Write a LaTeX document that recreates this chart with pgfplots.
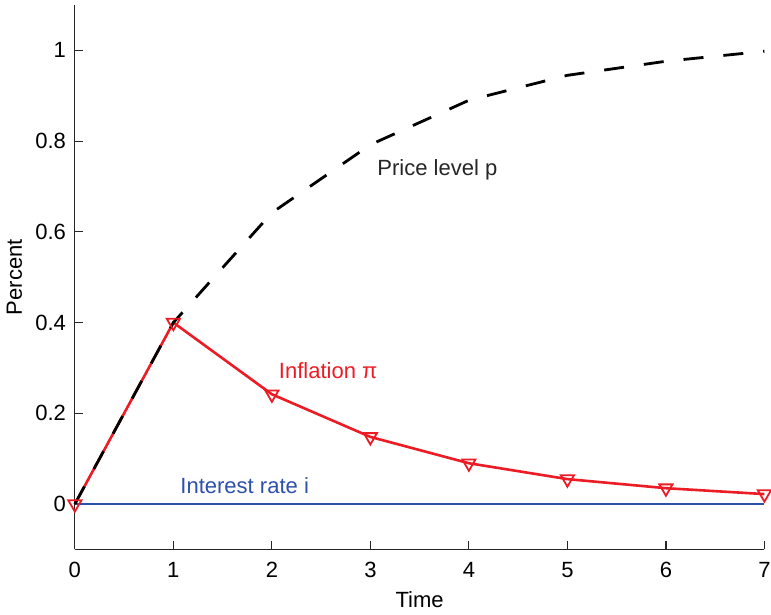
\documentclass[border=0pt]{standalone}
\usepackage{fontspec}
\setmainfont{Liberation Sans}
\usepackage{pgfplots}
\pgfplotsset{compat=1.18}
\usepackage{pgfplotstable}
\definecolor{infred}{RGB}{237,28,36}
\definecolor{intblue}{RGB}{45,80,170}
\pgfplotstableread{
t infl
0 0
1 0.400
2 0.242
3 0.148
4 0.090
5 0.055
6 0.035
7 0.022
}\infltab
\pgfplotstableread{
t price
0 0
1 0.400
2 0.642
3 0.792
4 0.890
5 0.945
6 0.976
7 0.998
}\pricetab
\pgfplotstableread{
t rate
0 0
7 0
}\ratetab
\begin{document}
\begin{tikzpicture}
\begin{axis}[
 scale only axis, width=344.5pt, height=272pt,
 xmin=0, xmax=7, ymin=-0.1, ymax=1.1,
 axis lines*=left,
 tick align=inside,
 xtick={0,1,2,3,4,5,6,7}, ytick={0,0.2,0.4,0.6,0.8,1},
 /pgf/number format/assume math mode=true,
 yticklabel style={/pgf/number format/fixed, anchor=east, xshift=-0.9pt},
 xticklabel style={anchor=base, yshift=-14pt, inner xsep=0pt},
 font=\fontsize{11}{13}\selectfont,
 xlabel={Time}, ylabel={Percent},
 xlabel style={at={(axis description cs:0.5,0)}, anchor=base, yshift=-29pt},
 ylabel style={at={(axis description cs:0,0.5)}, anchor=base, yshift=26.5pt},
 clip=false,
 axis line style={line width=0.6pt, black!85},
 major tick style={line width=0.6pt, black!85},
 major tick length=4pt,
]
\addplot[intblue, line width=1.4pt] table[x=t,y=rate] {\ratetab};
\addplot[infred, line width=1.3pt] table[x=t,y=infl] {\infltab};
\addplot[black, line width=1.4pt, dash pattern=on 10pt off 10pt] table[x=t,y=price] {\pricetab};
\addplot[infred, only marks, mark=triangle, mark size=3.8pt, mark options={rotate=180, line width=0.9pt, fill=none}] table[x=t,y=infl] {\infltab};
\node[anchor=base west, text=black!85] at (axis cs:3.0,0.724) {Price level p};
\node[anchor=base west, text=infred] at (axis cs:2.0,0.276) {Inflation π};
\node[anchor=base west, text=intblue] at (axis cs:1.0,0.024) {Interest rate i};
\end{axis}
\path ([yshift=2.5pt]current axis.north west);
\end{tikzpicture}
\end{document}
